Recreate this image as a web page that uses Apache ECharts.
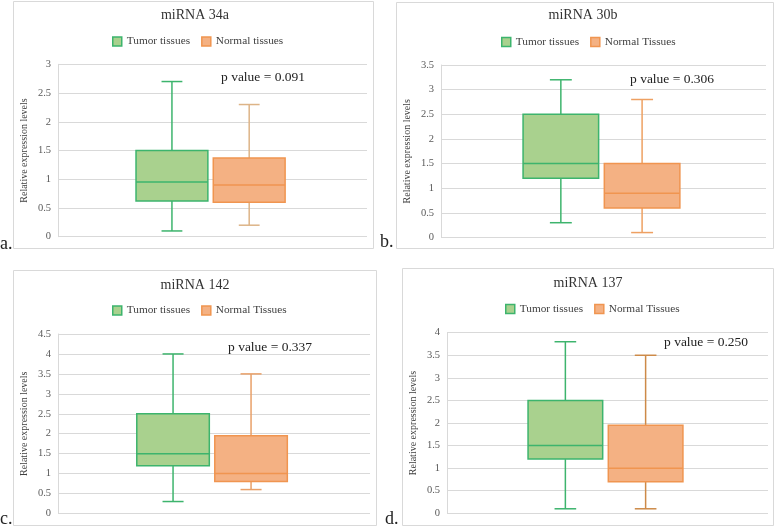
<!DOCTYPE html>
<html>
<head>
<meta charset="utf-8">
<script src="https://cdn.jsdelivr.net/npm/echarts@6/dist/echarts.min.js"></script>
<style>
html, body { margin: 0; padding: 0; background: #fff; }
#container { width: 777px; height: 527px; }
</style>
</head>
<body>
<div id="container"></div>
<script>
// data
var panelTitles = ['miRNA 34a', 'miRNA 30b', 'miRNA 142', 'miRNA 137'];
var panelLetters = ['a.', 'b.', 'c.', 'd.'];
var pValues = ['0.091', '0.306', '0.337', '0.250'];
var tumorName = 'Tumor tissues';
var normalNames = ['Normal tissues', 'Normal Tissues', 'Normal Tissues', 'Normal Tissues'];
var categories = ['L', 'Tumor', 'Normal', 'R'];
var yMax = [3, 3.5, 4.5, 4];
var yStep = 0.5;
// [min, Q1, median, Q3, max]
var tumorStats = [
    [0.1, 0.62, 0.95, 1.5, 2.7],
    [0.3, 1.2, 1.5, 2.5, 3.2],
    [0.3, 1.2, 1.5, 2.5, 4.0],
    [0.1, 1.2, 1.5, 2.5, 3.8]
];
var normalStats = [
    [0.2, 0.6, 0.9, 1.37, 2.3],
    [0.1, 0.6, 0.9, 1.5, 2.8],
    [0.6, 0.8, 1.0, 1.95, 3.5],
    [0.1, 0.7, 1.0, 1.95, 3.5]
];

var dom = document.getElementById('container');
var myChart = echarts.init(dom);

// panel layout, px
var frames = [[13, 1, 360, 247], [396, 2, 377, 246], [13, 270, 363, 255], [402, 268, 371, 257]];
var plots = [[58, 64.3, 309, 172.4], [441, 65, 325, 172.5], [58, 334, 312, 179.5], [447, 332.7, 321, 180.6]];
var titlePos = [[195, 15.7], [583, 15.7], [195, 285], [588, 283.3]];
var legendPos = [[112, 36], [501, 36.5], [112, 305], [505, 303.5]];
var pPos = [[221, 77.7], [630, 79], [228, 347.3], [664, 342.7]];
var letterPos = [[0, 244], [380, 242], [0, 519], [385, 519]];

var serif = '"Liberation Serif", "Times New Roman", serif';
var tumorFill = '#A9D18E', tumorLine = '#3DB46D';
var normalFill = '#F4B183', normalLine = '#F09550';
var normalWhisker = ['#DDB487', '#EEA062', '#E9A068', '#CD8A48'];

function makeRender(fill, stroke, whisker) {
    return function (params, api) {
        var x = api.value(0);
        var pMin = api.coord([x, api.value(1)]);
        var pQ1 = api.coord([x, api.value(2)]);
        var pMed = api.coord([x, api.value(3)]);
        var pQ3 = api.coord([x, api.value(4)]);
        var pMax = api.coord([x, api.value(5)]);
        var band = api.size([1, 0])[0];
        var bw = band * 0.93;
        var cw = bw * 0.29;
        // Excel sits the boxes a touch left of the band centre
        var cx = pMed[0] - band * 0.025;
        var ls = {stroke: whisker, lineWidth: 1.5};
        return {
            type: 'group',
            children: [
                {type: 'line', shape: {x1: cx, y1: pQ3[1], x2: cx, y2: pMax[1]}, style: ls},
                {type: 'line', shape: {x1: cx, y1: pQ1[1], x2: cx, y2: pMin[1]}, style: ls},
                {type: 'line', shape: {x1: cx - cw / 2, y1: pMax[1], x2: cx + cw / 2, y2: pMax[1]}, style: ls},
                {type: 'line', shape: {x1: cx - cw / 2, y1: pMin[1], x2: cx + cw / 2, y2: pMin[1]}, style: ls},
                {type: 'rect', shape: {x: cx - bw / 2, y: pQ3[1], width: bw, height: pQ1[1] - pQ3[1]},
                    style: {fill: fill, stroke: stroke, lineWidth: 1.5}},
                {type: 'line', shape: {x1: cx - bw / 2, y1: pMed[1], x2: cx + bw / 2, y2: pMed[1]},
                    style: {stroke: stroke, lineWidth: 1.5}}
            ]
        };
    };
}

var grids = [], xAxes = [], yAxes = [], series = [], legends = [], graphics = [];
for (var i = 0; i < 4; i++) {
    var p = plots[i], f = frames[i];
    graphics.push({
        type: 'rect', z: -10,
        shape: {x: f[0] + 0.5, y: f[1] + 0.5, width: f[2], height: f[3]},
        style: {fill: '#fff', stroke: '#D9D9D9', lineWidth: 1}
    });
    graphics.push({
        type: 'text', x: titlePos[i][0], y: titlePos[i][1],
        style: {text: panelTitles[i], fontSize: 14, fontFamily: serif, fill: '#333', align: 'center', verticalAlign: 'middle'}
    });
    graphics.push({
        type: 'text', x: pPos[i][0], y: pPos[i][1],
        style: {text: 'p value = ' + pValues[i], fontSize: 13.5, fontFamily: serif, fill: '#222', align: 'left', verticalAlign: 'middle'}
    });
    graphics.push({
        type: 'text', x: letterPos[i][0], y: letterPos[i][1],
        style: {text: panelLetters[i], fontSize: 18, fontFamily: serif, fill: '#222', align: 'left', verticalAlign: 'middle'}
    });
    grids.push({left: p[0], top: p[1], width: p[2], height: p[3]});
    xAxes.push({
        type: 'category', gridIndex: i, data: categories,
        axisLine: {show: false}, axisTick: {show: false}, axisLabel: {show: false}, splitLine: {show: false}
    });
    yAxes.push({
        type: 'value', gridIndex: i, min: 0, max: yMax[i], interval: yStep,
        name: 'Relative expression levels', nameLocation: 'middle', nameGap: 29,
        nameTextStyle: {fontFamily: serif, fontSize: 10, color: '#404040'},
        axisLine: {show: true, lineStyle: {color: '#D9D9D9', width: 1}},
        axisTick: {show: false},
        axisLabel: {fontFamily: serif, fontSize: 10.5, color: '#595959', margin: 7},
        splitLine: {lineStyle: {color: '#D9D9D9', width: 1}}
    });
    series.push({
        type: 'custom', name: tumorName, xAxisIndex: i, yAxisIndex: i,
        itemStyle: {color: tumorFill, borderColor: tumorLine},
        encode: {x: 0, y: [1, 2, 3, 4, 5]},
        renderItem: makeRender(tumorFill, tumorLine, tumorLine),
        data: [['Tumor'].concat(tumorStats[i])]
    });
    series.push({
        type: 'custom', name: normalNames[i], xAxisIndex: i, yAxisIndex: i,
        itemStyle: {color: normalFill, borderColor: normalLine},
        encode: {x: 0, y: [1, 2, 3, 4, 5]},
        renderItem: makeRender(normalFill, normalLine, normalWhisker[i]),
        data: [['Normal'].concat(normalStats[i])]
    });
    legends.push({
        left: legendPos[i][0], top: legendPos[i][1], padding: 0,
        itemWidth: 9, itemHeight: 9, itemGap: 11, selectedMode: false,
        textStyle: {fontFamily: serif, fontSize: 11.3, color: '#404040'},
        data: [
            {name: tumorName, icon: 'rect', itemStyle: {color: tumorFill, borderColor: tumorLine, borderWidth: 1.5}},
            {name: normalNames[i], icon: 'rect', itemStyle: {color: normalFill, borderColor: normalLine, borderWidth: 1.5}}
        ]
    });
}

option = {
    backgroundColor: '#fff',
    animation: false,
    grid: grids,
    xAxis: xAxes,
    yAxis: yAxes,
    legend: legends,
    graphic: graphics,
    series: series
};
myChart.setOption(option, true);
</script>
</body>
</html>
